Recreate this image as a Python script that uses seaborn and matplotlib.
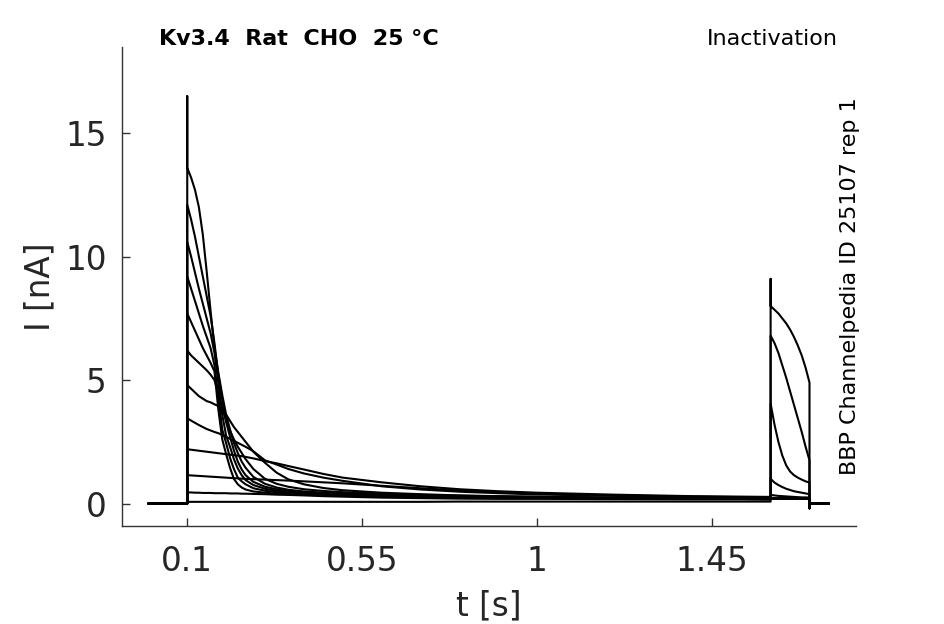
import numpy as np
import pandas as pd
import matplotlib
matplotlib.use("Agg")
import matplotlib.pyplot as plt
import seaborn as sns

# ---- data ----
# sample times during the conditioning step (s)
t_pre = [0.1, 0.11, 0.12, 0.13, 0.14, 0.15, 0.16, 0.17, 0.18, 0.19, 0.2,
         0.21, 0.22, 0.23, 0.24, 0.25, 0.27, 0.3, 0.33, 0.36, 0.4, 0.45,
         0.5, 0.6, 0.7, 0.8, 0.9, 1.0, 1.2, 1.4, 1.6]
# sample times during the test step (s)
t_test = [1.6, 1.61, 1.62, 1.63, 1.64, 1.65, 1.66, 1.67, 1.68, 1.69, 1.7]

pre_01 = [13.6, 13.2, 12.7, 12.0, 10.9, 9.4, 7.8, 6.3, 5.3, 4.4, 3.6, 3.0, 2.45, 2.05, 1.7, 1.45, 1.08, 0.8, 0.65, 0.56, 0.49, 0.44, 0.4, 0.35, 0.32, 0.29, 0.27, 0.25, 0.22, 0.2, 0.18]
pre_02 = [12.1, 11.5, 10.8, 10.0, 9.2, 8.4, 7.6, 6.5, 5.2, 4.2, 3.3, 2.7, 2.15, 1.7, 1.38, 1.15, 0.88, 0.68, 0.58, 0.51, 0.46, 0.42, 0.39, 0.34, 0.31, 0.29, 0.27, 0.25, 0.22, 0.2, 0.18]
pre_03 = [10.6, 10.0, 9.35, 8.7, 8.1, 7.5, 6.9, 6.1, 4.9, 3.6, 2.75, 2.3, 1.8, 1.42, 1.15, 0.95, 0.75, 0.6, 0.52, 0.47, 0.43, 0.4, 0.37, 0.33, 0.3, 0.28, 0.26, 0.25, 0.22, 0.2, 0.18]
pre_04 = [9.2, 8.7, 8.2, 7.7, 7.2, 6.75, 6.3, 5.6, 4.3, 3.0, 2.45, 1.85, 1.4, 1.05, 0.9, 0.78, 0.62, 0.52, 0.46, 0.43, 0.4, 0.38, 0.36, 0.32, 0.3, 0.28, 0.26, 0.25, 0.22, 0.2, 0.18]
pre_05 = [7.7, 7.35, 7.0, 6.65, 6.3, 6.0, 5.7, 5.35, 3.8, 2.6, 2.0, 1.45, 1.0, 0.78, 0.65, 0.57, 0.49, 0.44, 0.4, 0.38, 0.36, 0.34, 0.32, 0.29, 0.27, 0.26, 0.25, 0.24, 0.22, 0.2, 0.18]
pre_06 = [6.2, 6.0, 5.85, 5.7, 5.55, 5.4, 5.22, 5.0, 4.45, 3.85, 3.35, 2.95, 2.6, 2.3, 2.05, 1.8, 1.4, 1.0, 0.8, 0.68, 0.58, 0.51, 0.46, 0.4, 0.35, 0.32, 0.29, 0.27, 0.23, 0.21, 0.19]
pre_07 = [4.8, 4.65, 4.5, 4.35, 4.25, 4.15, 4.1, 4.02, 3.95, 3.8, 3.6, 3.35, 3.1, 2.9, 2.7, 2.5, 2.1, 1.65, 1.25, 0.98, 0.78, 0.63, 0.54, 0.44, 0.38, 0.33, 0.3, 0.28, 0.24, 0.21, 0.19]
pre_08 = [3.45, 3.36, 3.27, 3.18, 3.1, 3.02, 2.96, 2.9, 2.85, 2.78, 2.7, 2.62, 2.54, 2.46, 2.38, 2.3, 2.12, 1.75, 1.58, 1.4, 1.22, 1.05, 0.92, 0.7, 0.57, 0.48, 0.42, 0.37, 0.31, 0.27, 0.25]
pre_09 = [2.2, 2.18, 2.16, 2.14, 2.12, 2.1, 2.08, 2.06, 2.04, 2.02, 2.0, 1.98, 1.96, 1.94, 1.92, 1.89, 1.83, 1.72, 1.63, 1.52, 1.38, 1.2, 1.05, 0.86, 0.7, 0.58, 0.5, 0.44, 0.36, 0.3, 0.27]
pre_10 = [1.15, 1.14, 1.13, 1.12, 1.11, 1.1, 1.09, 1.08, 1.07, 1.06, 1.05, 1.04, 1.03, 1.02, 1.01, 1.0, 0.99, 0.97, 0.95, 0.93, 0.9, 0.86, 0.82, 0.72, 0.62, 0.53, 0.46, 0.4, 0.33, 0.28, 0.25]
pre_11 = [0.45, 0.45, 0.44, 0.44, 0.43, 0.43, 0.43, 0.42, 0.42, 0.42, 0.42, 0.41, 0.41, 0.41, 0.4, 0.4, 0.39, 0.38, 0.36, 0.35, 0.33, 0.3, 0.28, 0.24, 0.22, 0.2, 0.19, 0.19, 0.18, 0.17, 0.17]
pre_12 = [0.07, 0.07, 0.07, 0.07, 0.07, 0.07, 0.07, 0.07, 0.07, 0.07, 0.07, 0.07, 0.07, 0.07, 0.07, 0.07, 0.07, 0.07, 0.07, 0.07, 0.07, 0.07, 0.07, 0.07, 0.07, 0.08, 0.08, 0.08, 0.08, 0.08, 0.08]

test_01 = [0.2, 0.2, 0.2, 0.2, 0.2, 0.2, 0.2, 0.2, 0.2, 0.2, 0.2]
test_02 = [0.2, 0.2, 0.2, 0.2, 0.2, 0.2, 0.2, 0.2, 0.2, 0.2, 0.2]
test_03 = [0.2, 0.2, 0.2, 0.2, 0.2, 0.2, 0.2, 0.2, 0.2, 0.2, 0.2]
test_04 = [0.2, 0.2, 0.2, 0.2, 0.2, 0.2, 0.2, 0.2, 0.2, 0.2, 0.2]
test_05 = [0.2, 0.2, 0.2, 0.2, 0.2, 0.2, 0.2, 0.2, 0.2, 0.2, 0.2]
test_06 = [0.2, 0.2, 0.2, 0.2, 0.2, 0.2, 0.2, 0.2, 0.2, 0.2, 0.2]
test_07 = [0.22, 0.22, 0.22, 0.22, 0.22, 0.22, 0.22, 0.22, 0.22, 0.22, 0.22]
test_08 = [0.35, 0.33, 0.31, 0.3, 0.29, 0.28, 0.27, 0.26, 0.25, 0.25, 0.24]
test_09 = [1.0, 0.85, 0.75, 0.67, 0.6, 0.55, 0.5, 0.47, 0.44, 0.41, 0.38]
test_10 = [4.05, 3.2, 2.5, 1.95, 1.55, 1.3, 1.15, 1.05, 0.97, 0.9, 0.85]
test_11 = [6.8, 6.5, 6.1, 5.6, 5.1, 4.55, 4.0, 3.45, 2.9, 2.3, 1.75]
test_12 = [8.0, 7.85, 7.7, 7.5, 7.3, 7.05, 6.75, 6.4, 6.0, 5.5, 4.9]

# capacitive transients
peak_on_pre = 16.5
peak_on_test = 9.1
peak_off_test = -0.2

t_start, t_on, t_off, t_end = 0.0, 0.1, 1.7, 1.75

pre_all = [pre_01, pre_02, pre_03, pre_04, pre_05, pre_06,
           pre_07, pre_08, pre_09, pre_10, pre_11, pre_12]
test_all = [test_01, test_02, test_03, test_04, test_05, test_06,
            test_07, test_08, test_09, test_10, test_11, test_12]

rows = []
for k, (pre, test) in enumerate(zip(pre_all, test_all)):
    ts = [t_start, t_on]
    vs = [0.0, 0.0]
    if k == 0:
        ts.append(t_on)
        vs.append(peak_on_pre)
    ts += list(t_pre)
    vs += list(pre)
    if k == len(pre_all) - 1:
        ts.append(t_test[0])
        vs.append(peak_on_test)
    ts += list(t_test)
    vs += list(test)
    if k == len(pre_all) - 1:
        ts.append(t_off)
        vs.append(peak_off_test)
    ts += [t_off, t_end]
    vs += [0.0, 0.0]
    for i, (a, b) in enumerate(zip(ts, vs)):
        rows.append({"trace": k, "order": i, "t": a, "I": b})
df = pd.DataFrame(rows)

# ---- plot ----
sns.set_style("ticks")
plt.rcParams["font.family"] = ["DejaVu Sans"]
plt.rcParams["xtick.direction"] = "in"
plt.rcParams["ytick.direction"] = "in"

fig = plt.figure(figsize=(9.45, 6.24), dpi=100)
ax = fig.add_axes([0.129, 0.157, 0.777, 0.768])

sns.lineplot(data=df, x="t", y="I", units="trace", estimator=None, sort=False,
             color="black", lw=1.5, ax=ax, legend=False)

ax.set_xlim(-0.068, 1.82)
ax.set_ylim(-0.91, 18.5)
ax.set_xticks([0.1, 0.55, 1, 1.45])
ax.set_xticklabels(["0.1", "0.55", "1", "1.45"])
ax.set_yticks([0, 5, 10, 15])
ax.tick_params(axis="both", labelsize=23.5, length=6, width=1, colors="#333333",
               labelcolor="#262626")
ax.tick_params(axis="x", pad=14)
ax.tick_params(axis="y", pad=11)
for s in ["left", "bottom"]:
    ax.spines[s].set_color("#333333")
    ax.spines[s].set_linewidth(1)
sns.despine(ax=ax)

ax.set_xlabel("t [s]", fontsize=23.5, color="#262626", labelpad=8)
ax.set_ylabel("I [nA]", fontsize=23.5, color="#262626", labelpad=6)

fig.text(159 / 945, 1 - 39 / 624, "Kv3.4  Rat  CHO  25 °C", fontsize=16,
         fontweight="bold", ha="left", va="center", color="black")
fig.text(838 / 945, 1 - 39 / 624, "Inactivation", fontsize=16,
         ha="right", va="center", color="black")
fig.text(850 / 945, 1 - 286 / 624, "BBP Channelpedia ID 25107 rep 1",
         fontsize=16, rotation=90, ha="center", va="center", color="black")

fig.savefig("out.png", dpi=100)
